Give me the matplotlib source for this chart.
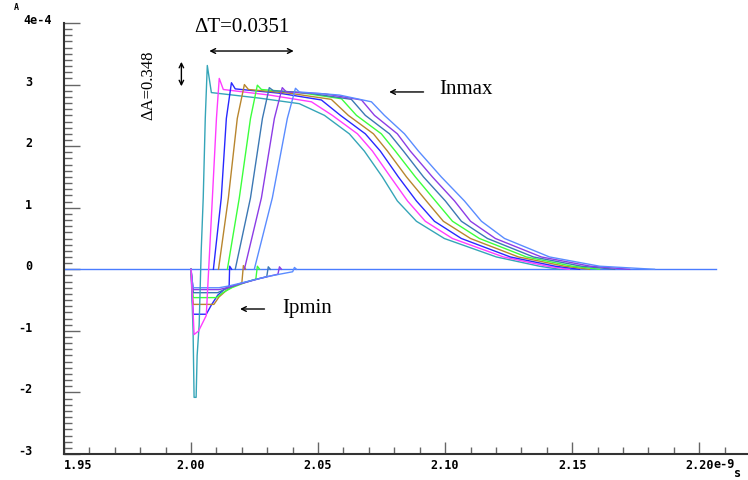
import matplotlib
matplotlib.use("Agg")
import matplotlib.pyplot as plt
from matplotlib.ticker import FixedLocator, FixedFormatter, MultipleLocator

# time in ns, current in 1e-4 A
t_teal = [2.0000, 2.0008, 2.0012, 2.0020, 2.0024, 2.0032, 2.0040, 2.0048, 2.0056, 2.0064, 2.0080,
          2.0269, 2.0426, 2.0525, 2.0623, 2.0682, 2.0753, 2.0812, 2.0887, 2.0997, 2.1202, 2.1371, 2.1450]
i_teal = [0, -1.0, -2.08, -2.08, -1.4, -0.9, 0.3, 1.16, 2.45, 3.31, 2.87,
          2.78, 2.69, 2.5, 2.2, 1.92, 1.5, 1.11, 0.78, 0.5, 0.2, 0.05, 0.0]

t_magenta = [2.0000, 2.0006, 2.0012, 2.0030, 2.0060, 2.0084, 2.0100, 2.0111, 2.0127,
             2.0308, 2.0474, 2.0556, 2.0655, 2.0714, 2.0785, 2.0852, 2.0922, 2.1029, 2.1230, 2.1403, 2.1489]
i_magenta = [0, -0.5, -1.06, -1.0, -0.75, 1.16, 2.45, 3.10, 2.92,
             2.83, 2.72, 2.5, 2.2, 1.92, 1.5, 1.11, 0.78, 0.5, 0.2, 0.05, 0.0]

t_blue = [2.0088, 2.0119, 2.0139, 2.0159, 2.0174, 2.0348, 2.0513, 2.0588, 2.0686, 2.0745,
          2.0816, 2.0887, 2.0958, 2.1064, 2.1257, 2.1434, 2.1529]
i_blue = [0, 1.16, 2.45, 3.03, 2.93, 2.86, 2.75, 2.5, 2.2, 1.92, 1.5, 1.11, 0.78, 0.5, 0.2, 0.05, 0.0]

t_brown = [2.0108, 2.0147, 2.0182, 2.0210, 2.0226, 2.0387, 2.0552, 2.0619, 2.0718, 2.0773,
           2.0848, 2.0926, 2.0993, 2.1100, 2.1289, 2.1470, 2.1568]
i_brown = [0, 1.16, 2.45, 3.0, 2.92, 2.86, 2.76, 2.5, 2.2, 1.92, 1.5, 1.11, 0.78, 0.5, 0.2, 0.05, 0.0]

t_green = [2.0143, 2.0190, 2.0234, 2.0261, 2.0277, 2.0426, 2.0592, 2.0651, 2.0749, 2.0804,
           2.0883, 2.0962, 2.1029, 2.1135, 2.1320, 2.1501, 2.1608]
i_green = [0, 1.16, 2.45, 2.99, 2.92, 2.87, 2.77, 2.5, 2.2, 1.92, 1.5, 1.11, 0.78, 0.5, 0.2, 0.05, 0.0]

t_steel = [2.0174, 2.0234, 2.0281, 2.0308, 2.0324, 2.0466, 2.0631, 2.0686, 2.0781, 2.0836,
           2.0915, 2.1001, 2.1064, 2.1167, 2.1348, 2.1537, 2.1667]
i_steel = [0, 1.16, 2.45, 2.95, 2.90, 2.86, 2.76, 2.5, 2.2, 1.92, 1.5, 1.11, 0.78, 0.5, 0.2, 0.05, 0.0]

t_purple = [2.0210, 2.0277, 2.0328, 2.0359, 2.0375, 2.0525, 2.0671, 2.0722, 2.0812, 2.0863,
            2.0950, 2.1037, 2.1100, 2.1198, 2.1379, 2.1572, 2.1726]
i_purple = [0, 1.16, 2.45, 2.95, 2.88, 2.85, 2.75, 2.5, 2.2, 1.92, 1.5, 1.11, 0.78, 0.5, 0.2, 0.05, 0.0]

t_corn = [2.0249, 2.0320, 2.0379, 2.0411, 2.0426, 2.0584, 2.0710, 2.0761, 2.0840, 2.0895,
          2.0985, 2.1076, 2.1143, 2.1234, 2.1411, 2.1608, 2.1824]
i_corn = [0, 1.16, 2.45, 2.94, 2.88, 2.83, 2.72, 2.5, 2.2, 1.92, 1.5, 1.11, 0.78, 0.5, 0.2, 0.05, 0.0]

# Ip traces (negative dips returning to zero)
tp_blue = [2.0000, 2.0005, 2.0009, 2.0060, 2.0080, 2.0105, 2.0130, 2.0150, 2.0152, 2.0160]
ip_blue = [0, -0.5, -0.73, -0.73, -0.58, -0.42, -0.33, -0.27, 0.05, 0.0]
tp_brown = [2.0000, 2.0005, 2.0009, 2.0090, 2.0110, 2.0140, 2.0170, 2.0200, 2.0206, 2.0215]
ip_brown = [0, -0.4, -0.57, -0.57, -0.45, -0.34, -0.27, -0.22, 0.06, 0.0]
tp_green = [2.0000, 2.0005, 2.0009, 2.0100, 2.0125, 2.0160, 2.0210, 2.0255, 2.0261, 2.0270]
ip_green = [0, -0.3, -0.46, -0.46, -0.38, -0.30, -0.22, -0.16, 0.05, 0.0]
tp_steel = [2.0000, 2.0005, 2.0009, 2.0105, 2.0130, 2.0180, 2.0240, 2.0298, 2.0304, 2.0312]
ip_steel = [0, -0.25, -0.38, -0.38, -0.33, -0.25, -0.18, -0.12, 0.04, 0.0]
tp_purple = [2.0000, 2.0005, 2.0009, 2.0110, 2.0140, 2.0200, 2.0270, 2.0342, 2.0348, 2.0356]
ip_purple = [0, -0.2, -0.33, -0.33, -0.30, -0.23, -0.15, -0.08, 0.04, 0.0]
tp_corn = [2.0000, 2.0005, 2.0009, 2.0110, 2.0150, 2.0220, 2.0310, 2.0400, 2.0407, 2.0415]
ip_corn = [0, -0.2, -0.30, -0.30, -0.27, -0.20, -0.11, -0.04, 0.03, 0.0]

t_zero = [1.95, 2.2068]
i_zero = [0.0, 0.0]

x_ticks = [1.95, 2.00, 2.05, 2.10, 2.15, 2.20]
x_labels = ["1.95", "2.00", "2.05", "2.10", "2.15", "2.20"]
y_ticks = [-3, -2, -1, 0, 1, 2, 3, 4]
y_labels = ["-3", "-2", "-1", "0", "1", "2", "3", ""]

c_teal, c_mag, c_blue, c_brown = "#35a5b8", "#ff3cff", "#2828ff", "#b8862e"
c_green, c_steel, c_purple, c_corn = "#3cff3c", "#3c78b4", "#8c3ce6", "#5a8cff"

plt.rcParams['font.family'] = 'DejaVu Sans Mono'
plt.rcParams['font.weight'] = 'bold'
plt.rcParams['font.size'] = 8.5

fig = plt.figure(figsize=(7.48, 4.81), dpi=100)
ax = fig.add_axes([64/748, 26/481, 686/748, 431/481])

lw = 1.0
ax.plot(t_zero, i_zero, color="#4a7cff", lw=lw)
ax.plot(tp_blue, ip_blue, color=c_blue, lw=lw)
ax.plot(tp_brown, ip_brown, color=c_brown, lw=lw)
ax.plot(tp_green, ip_green, color=c_green, lw=lw)
ax.plot(tp_steel, ip_steel, color=c_steel, lw=lw)
ax.plot(tp_purple, ip_purple, color=c_purple, lw=lw)
ax.plot(tp_corn, ip_corn, color=c_corn, lw=lw)
ax.plot(t_teal, i_teal, color=c_teal, lw=lw)
ax.plot(t_magenta, i_magenta, color=c_mag, lw=lw)
ax.plot(t_blue, i_blue, color=c_blue, lw=lw)
ax.plot(t_brown, i_brown, color=c_brown, lw=lw)
ax.plot(t_green, i_green, color=c_green, lw=lw)
ax.plot(t_steel, i_steel, color=c_steel, lw=lw)
ax.plot(t_purple, i_purple, color=c_purple, lw=lw)
ax.plot(t_corn, i_corn, color=c_corn, lw=lw)

ax.set_xlim(1.95, 2.22)
ax.set_ylim(-3, 4)
for s in ['top', 'right']:
    ax.spines[s].set_visible(False)
for s in ['left', 'bottom']:
    ax.spines[s].set_color('#333333')
    ax.spines[s].set_linewidth(1.5)

ax.xaxis.set_major_locator(FixedLocator(x_ticks))
ax.xaxis.set_major_formatter(FixedFormatter(x_labels))
ax.xaxis.set_minor_locator(MultipleLocator(0.01))
ax.yaxis.set_major_locator(FixedLocator(y_ticks))
ax.yaxis.set_major_formatter(FixedFormatter(y_labels))
ax.yaxis.set_minor_locator(MultipleLocator(0.1))

ax.tick_params(which='both', direction='in', color='#666666', width=1)
ax.tick_params(axis='y', which='major', length=11.5, pad=23)
ax.tick_params(axis='y', which='minor', length=6)
ax.tick_params(axis='x', which='major', length=8.6, pad=3)
ax.tick_params(axis='x', which='minor', length=5)
for lab in ax.get_yticklabels():
    lab.set_verticalalignment('baseline')
ax.get_xticklabels()[0].set_horizontalalignment('left')

fig.text(23/748, 1 - 20/481, "4e-4", ha='left', va='center')
fig.text(14/748, 1 - 8/481, "A", ha='left', va='center', fontsize=6)
fig.text(713/748, 1 - 464.5/481, "e-9", ha='left', va='center')
fig.text(734/748, 1 - 474/481, "s", ha='left', va='center')

serif = 'Liberation Serif'
ax.text(2.0202, 3.95, "\u0394T=0.0351", fontfamily=serif, fontweight='normal', fontsize=15,
        ha='center', va='center')
ax.annotate("", xy=(2.0061, 3.545), xytext=(2.0415, 3.545),
            arrowprops=dict(arrowstyle='<->', color='black', lw=1))
ax.text(1.9832, 3.01, "\u0394A=0.348", fontfamily=serif, fontweight='normal', fontsize=12,
        rotation=90, ha='center', va='center')
ax.annotate("", xy=(1.9962, 3.415), xytext=(1.9962, 2.927),
            arrowprops=dict(arrowstyle='<->', color='black', lw=1, mutation_scale=8))
ax.annotate("", xy=(2.0769, 2.88), xytext=(2.0926, 2.88),
            arrowprops=dict(arrowstyle='->', color='black', lw=1))
ax.text(2.0978, 2.93, "Inmax", fontfamily=serif, fontweight='normal', fontsize=15,
        ha='left', va='center')
ax.annotate("", xy=(2.0182, -0.645), xytext=(2.0300, -0.645),
            arrowprops=dict(arrowstyle='->', color='black', lw=1))
ax.text(2.0360, -0.62, "Ipmin", fontfamily=serif, fontweight='normal', fontsize=15,
        ha='left', va='center')

fig.savefig("out.png", dpi=100)
